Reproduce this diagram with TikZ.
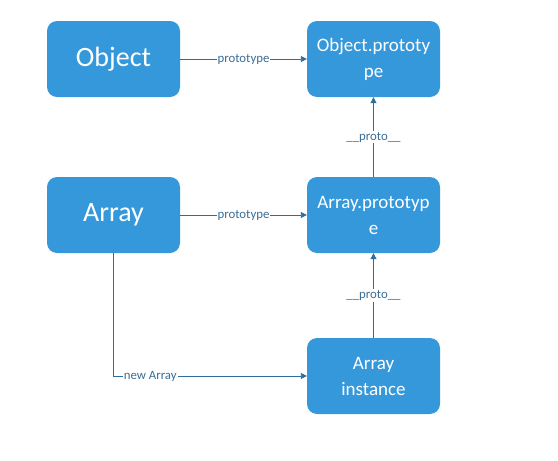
\documentclass[tikz,border=0pt]{standalone}
\usepackage{fontspec}
\setmainfont{Carlito}
\usepackage{xcolor}
\usetikzlibrary{arrows.meta, positioning}
\definecolor{boxblue}{HTML}{3598DB}
\definecolor{lineblue}{HTML}{2C6E9E}
\definecolor{textblue}{HTML}{3B6E96}

\begin{document}
\begin{tikzpicture}[x=1pt, y=-1pt,
    box/.style={fill=boxblue, text=white, rounded corners=10pt, minimum width=133pt, minimum height=76pt, align=center, inner sep=0pt},
    link/.style={draw=lineblue, line width=0.9pt, -{Triangle[length=6pt, width=6pt]}},
    tag/.style={fill=white, text=textblue, font=\fontsize{12.8}{14}\selectfont, inner sep=1pt}]
                    \useasboundingbox (0, 0) rectangle (558, 461);

                    \node[box, font=\fontsize{28}{32}\selectfont] (obj) at (113.5, 59) {Object};
                    \node[box, font=\fontsize{19}{26}\selectfont] (objproto) at (373.5, 59) {Object.prototy\\pe};
                    \node[box, font=\fontsize{28}{32}\selectfont] (arr) at (113.5, 215) {Array};
                    \node[box, font=\fontsize{19}{26}\selectfont] (arrproto) at (373.5, 215) {Array.prototyp\\e};
                    \node[box, font=\fontsize{19}{26}\selectfont] (inst) at (373.5, 376) {Array\\instance};
                    \coordinate (bend) at (113.5, 376);

                    \draw[link] (obj) -- node[tag]{prototype} (objproto);
                    \draw[link] (arr) -- node[tag]{prototype} (arrproto);
                    \draw[link] (arrproto) -- node[tag]{\_\_proto\_\_} (objproto);
                    \draw[link] (inst) -- node[tag]{\_\_proto\_\_} (arrproto);
                    \draw[link] (arr) -- (bend) -- node[tag, pos=0.19]{new Array} (inst);
                \end{tikzpicture}
\end{document}
